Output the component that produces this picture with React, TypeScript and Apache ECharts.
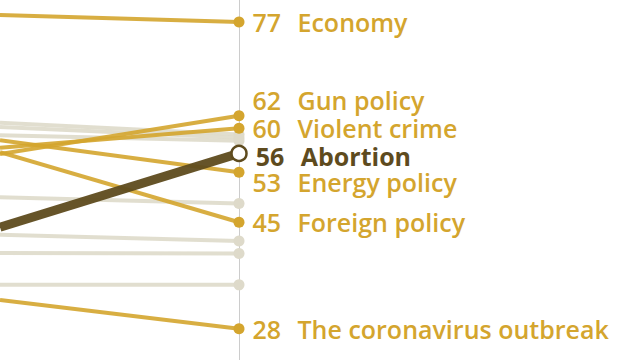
import React, { useEffect, useRef } from "react";
import * as echarts from "echarts";

// Highlighted issues: name, value at left edge, value at right (labelled)
const goldNames = ["Economy", "Gun policy", "Violent crime", "Energy policy", "Foreign policy", "The coronavirus outbreak"];
const goldLeft = [78.1, 55.9, 56.9, 58.1, 56.2, 32.6];
const goldRight = [77, 62, 60, 53, 45, 28];

const focusName = "Abortion";
const focusLeft = 44.2;
const focusRight = 56;

// Unlabelled background issues
const grayLeft = [60.9, 60.2, 58.9, 49.0, 43.0, 40.1, 35.0];
const grayRight = [59, 58.5, 58, 48, 42, 40, 35];

const GOLD = "#D4A52E";
const GRAY = "#DEDACA";
const DARK = "#5E4B1E";
const FONT = "Open Sans, Liberation Sans, sans-serif";

const labelOffsets: Record<string, number[]> = {
  "Gun policy": [0, -16],
  "Energy policy": [0, 10],
  Abortion: [0, 3],
};

export default function App() {
  const ref = useRef<HTMLDivElement>(null);
  useEffect(() => {
    if (!ref.current) return;
    const chart = echarts.init(ref.current, null, { renderer: "svg" });

    const makeLabel = (name: string, value: number, color: string, bold: boolean) => ({
      show: true,
      position: "right",
      distance: 8,
      offset: labelOffsets[name] || [0, 0],
      formatter: `{n|${value}}{t|${name}}`,
      rich: {
        n: { fontFamily: FONT, fontSize: 25, color, width: 45, fontWeight: bold ? "bold" : 600, lineHeight: 23 },
        t: { fontFamily: FONT, fontSize: 25, color, fontWeight: bold ? "bold" : 600, lineHeight: 23 },
      },
    });

    const series: any[] = [];
    grayLeft.forEach((l, i) => {
      series.push({
        type: "line",
        data: [
          { value: [0, l], symbolSize: 0 },
          { value: [1, grayRight[i]] },
        ],
        symbol: "circle",
        symbolSize: 11,
        lineStyle: { color: GRAY, width: 4, opacity: 0.9 },
        itemStyle: { color: GRAY },
        z: 2,
      });
    });
    goldNames.forEach((name, i) => {
      series.push({
        type: "line",
        data: [
          { value: [0, goldLeft[i]], symbolSize: 0 },
          { value: [1, goldRight[i]], label: makeLabel(name, goldRight[i], GOLD, false) },
        ],
        symbol: "circle",
        symbolSize: 11,
        lineStyle: { color: GOLD, width: 4, opacity: 0.9 },
        itemStyle: { color: GOLD },
        z: 3,
      });
    });
    series.push({
      type: "line",
      data: [
        { value: [0, focusLeft], symbolSize: 0 },
        { value: [1, focusRight], label: makeLabel(focusName, focusRight, DARK, true) },
      ],
      symbol: "circle",
      symbolSize: 15,
      lineStyle: { color: DARK, width: 9, opacity: 0.95 },
      itemStyle: { color: "#fff", borderColor: DARK, borderWidth: 2.5 },
      z: 4,
      markLine: {
        silent: true,
        symbol: "none",
        label: { show: false },
        lineStyle: { color: "#cccccc", width: 1, type: "solid" },
        data: [{ xAxis: 1 }],
        z: 1,
      },
    });

    chart.setOption({
      animation: false,
      grid: { left: 0, right: 401, top: 0, bottom: 0 },
      xAxis: { type: "value", min: 0, max: 1, show: false },
      yAxis: { type: "value", min: 23, max: 80.5, show: false },
      series,
    });
    return () => chart.dispose();
  }, []);
  return <div ref={ref} style={{ position: "fixed", left: 0, top: 0, width: 640, height: 360, background: "#fff" }} />;
}
